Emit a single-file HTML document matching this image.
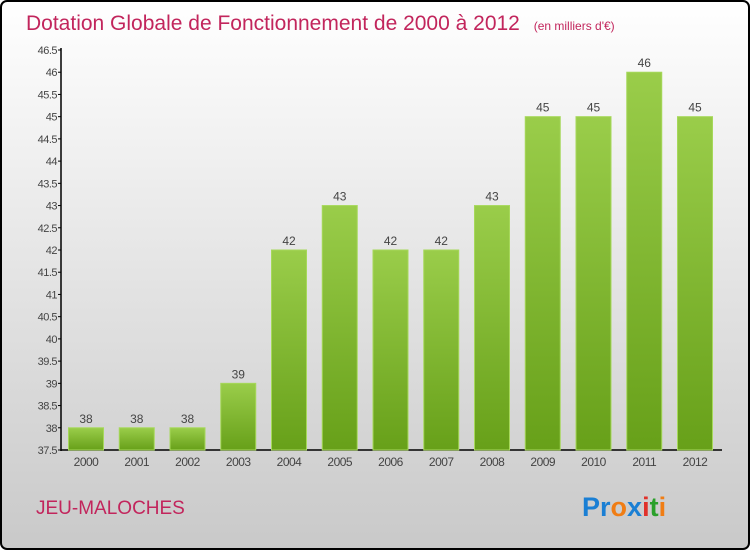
<!DOCTYPE html>
<html><head><meta charset="utf-8"><style>
body{margin:0;width:750px;height:550px;overflow:hidden}
svg{display:block;font-family:"Liberation Sans",sans-serif}
</style></head><body>
<svg width="750" height="550">
<defs>
<linearGradient id="bg" x1="0" y1="0" x2="0" y2="1"><stop offset="0" stop-color="#ffffff"/><stop offset="1" stop-color="#c9c9c9"/></linearGradient>
<linearGradient id="bar" x1="0" y1="0" x2="0" y2="1"><stop offset="0" stop-color="#9acd4a"/><stop offset="1" stop-color="#67a019"/></linearGradient>
</defs>
<rect x="1" y="1" width="748" height="548" rx="6" fill="url(#bg)" stroke="#000" stroke-width="2"/>
<text x="26" y="30" font-size="21" fill="#c2255c">Dotation Globale de Fonctionnement de 2000 à 2012 <tspan font-size="12" dx="8">(en milliers d'€)</tspan></text>
<g id="axes"></g>
<g id="bars"></g>
<text x="36" y="514" font-size="19" fill="#c2255c">JEU-MALOCHES</text>
<text x="582" y="516" font-size="27" font-weight="bold"><tspan fill="#1a7fd4">Pr</tspan><tspan fill="#f07d14">o</tspan><tspan fill="#1a7fd4">x</tspan><tspan fill="#e0312a">i</tspan><tspan fill="#2aa02a">t</tspan><tspan fill="#f07d14">i</tspan></text>
</svg>
<script>
const years=["2000","2001","2002","2003","2004","2005","2006","2007","2008","2009","2010","2011","2012"];
const values=[38,38,38,39,42,43,42,42,43,45,45,46,45];
const ticks=[37.5,38,38.5,39,39.5,40,40.5,41,41.5,42,42.5,43,43.5,44,44.5,45,45.5,46,46.5];
const NS="http://www.w3.org/2000/svg";
const y=v=>450-(v-37.5)*400/9;
const x=i=>86+i*50.75;
function mk(t,a,p){const e=document.createElementNS(NS,t);for(const k in a)e.setAttribute(k,a[k]);p.appendChild(e);return e;}
const ax=document.getElementById('axes'),bg=document.getElementById('bars');
let l=mk('line',{x1:61,y1:48,x2:61,y2:451,stroke:'#000','stroke-width':1.5},ax);


l=mk('line',{x1:61,y1:450,x2:722,y2:450,stroke:'#000','stroke-width':1.5},ax);


ticks.forEach(t=>{
 mk('line',{x1:58,x2:61,y1:y(t),y2:y(t),stroke:'#000'},ax);
 const tx=mk('text',{x:57,y:y(t)+4,'text-anchor':'end','font-size':11,fill:'#444','letter-spacing':'-0.5'},ax);
 tx.textContent=String(t);
 
 
});
values.forEach((v,i)=>{
 const r=mk('rect',{x:x(i)-17.5,y:y(v),width:35,height:450-y(v),fill:'url(#bar)',stroke:'#a6d85a','stroke-width':1},bg);
 
 
 const lb=mk('text',{x:x(i),y:y(v)-5,'text-anchor':'middle','font-size':12,fill:'#444'},bg);
 lb.textContent=String(v);
 
 
 const xl=mk('text',{x:x(i),y:466,'text-anchor':'middle','font-size':12,fill:'#444','letter-spacing':'-0.5'},bg);
 xl.textContent=years[i];
 
 
});
</script>
</body></html>
